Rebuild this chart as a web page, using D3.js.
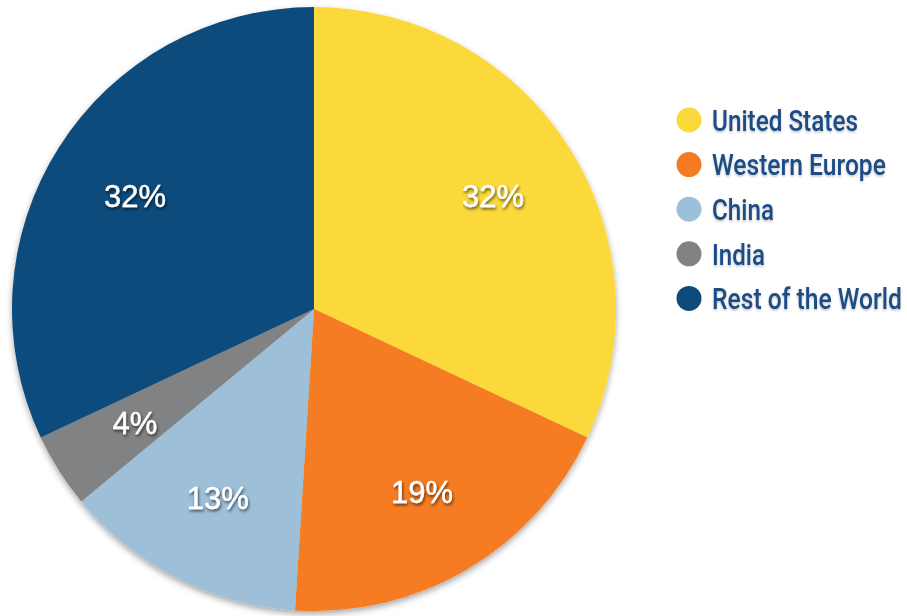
<!DOCTYPE html>
<html><head><meta charset="utf-8">
<script src="https://cdn.jsdelivr.net/npm/d3@7"></script>
<style>
html,body{margin:0;padding:0;background:#fff;}
svg{display:block;}
</style></head>
<body>
<svg id="chart" width="907" height="616"></svg>
<script>
const categories = ["United States", "Western Europe", "China", "India", "Rest of the World"];
const values = [32, 19, 13, 4, 32];
const colors = ["#FCD93B", "#F57B20", "#9DBFD8", "#808284", "#0E4B7B"];
const labels = ["32%", "19%", "13%", "4%", "32%"];
const legendWidths = [146, 174, 62, 53, 190];

const svg = d3.select("#chart");
const defs = svg.append("defs");
const f = defs.append("filter").attr("id","pieShadow").attr("x","-10%").attr("y","-10%").attr("width","120%").attr("height","125%");
f.append("feDropShadow").attr("dx",0).attr("dy",3).attr("stdDeviation",3).attr("flood-color","#000").attr("flood-opacity",0.35);
const tf = defs.append("filter").attr("id","txtShadow").attr("x","-20%").attr("y","-20%").attr("width","140%").attr("height","150%");
tf.append("feDropShadow").attr("dx",1).attr("dy",2).attr("stdDeviation",1.5).attr("flood-color","#000").attr("flood-opacity",0.6);
const lf = defs.append("filter").attr("id","legShadow").attr("x","-10%").attr("y","-20%").attr("width","120%").attr("height","150%");
lf.append("feDropShadow").attr("dx",0).attr("dy",1.5).attr("stdDeviation",1).attr("flood-color","#000").attr("flood-opacity",0.25);

const cx = 314, cy = 309, R = 302;
const data = categories.map((c,i)=>({name:c, value:values[i], color:colors[i], label:labels[i], w:legendWidths[i]}));
const pie = d3.pie().value(d=>d.value).sort(null);
const arcs = pie(data);
const arc = d3.arc().innerRadius(0).outerRadius(R);
const labelArc = d3.arc().innerRadius(212).outerRadius(212);

const g = svg.append("g").attr("transform",`translate(${cx},${cy})`);
g.append("g").attr("filter","url(#pieShadow)")
 .selectAll("path").data(arcs).join("path")
 .attr("d",arc).attr("fill",d=>d.data.color);

g.selectAll("text.lbl").data(arcs).join("text")
 .attr("class","lbl")
 .attr("transform",d=>`translate(${labelArc.centroid(d)})`)
 .attr("text-anchor","middle").attr("dy","0.36em")
 .attr("font-family","Liberation Sans, Arial, sans-serif")
 .attr("font-size",31)
 .attr("fill","#fff")
 .attr("stroke","#fff").attr("stroke-width",0.4)
 .attr("filter","url(#txtShadow)")
 .text(d=>d.data.label);

const leg = svg.append("g").attr("transform","translate(689,120)");
const items = leg.selectAll("g").data(data).join("g")
 .attr("transform",(d,i)=>`translate(0,${i*44.6})`);
items.append("circle").attr("r",12.5).attr("fill",d=>d.color);
items.append("text")
 .attr("font-family","Roboto, Liberation Sans, sans-serif")
 .attr("font-weight",500)
 .attr("font-size",30)
 .attr("dy","0.36em")
 .attr("fill","#1D4C86")
 .attr("filter","url(#legShadow)")
 .text(d=>d.name)
 .attr("transform",function(d){
   const nat = this.getComputedTextLength() || d.w;
   return `translate(23,0) scale(${d.w/nat},1)`;
 });
</script>
</body></html>
